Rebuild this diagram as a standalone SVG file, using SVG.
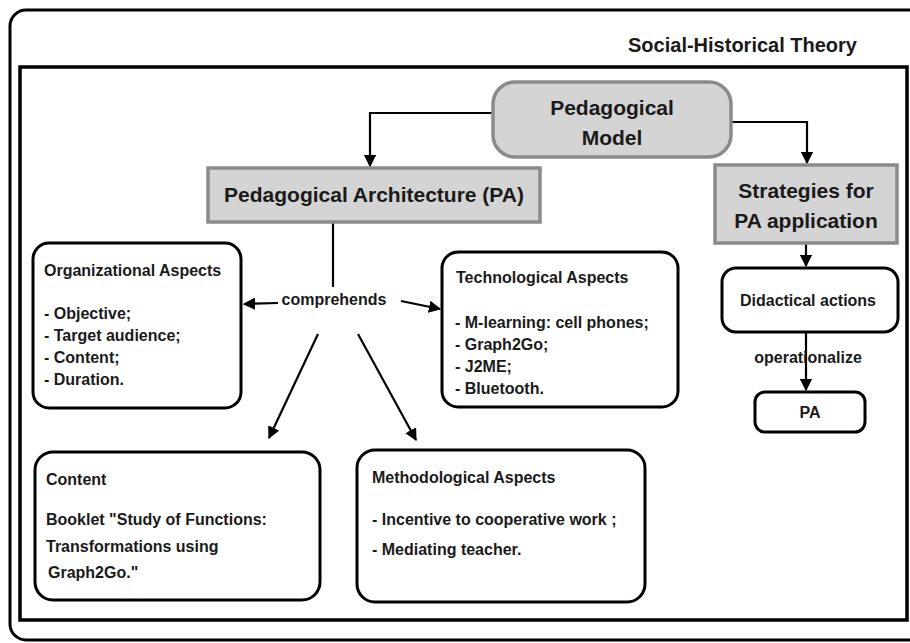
<svg xmlns="http://www.w3.org/2000/svg" width="910" height="643" viewBox="0 0 910 643">
<style>
text{font-family:"Liberation Sans",Arial,sans-serif;font-weight:bold;fill:#1a1a1a}
.t16{font-size:16px}
.t21{font-size:21px}
.c{text-anchor:middle}
.box{fill:#fff;stroke:#000;stroke-width:3}
.gray{fill:#d4d4d4;stroke:#8a8a8a;stroke-width:3.5}
.ln{fill:none;stroke:#000;stroke-width:2.2}
</style>
<defs>
<marker id="ah" viewBox="0 0 10 10" refX="9" refY="5" markerWidth="5.6" markerHeight="5.6" orient="auto" markerUnits="strokeWidth">
<path d="M0,0 L10,5 L0,10 z" fill="#000"/>
</marker>
</defs>
<rect width="910" height="643" fill="#fff"/>
<g id="outer-frame">
<rect x="10" y="10" width="930" height="630" rx="16" fill="none" stroke="#000" stroke-width="3"/>
<text x="857" y="52" text-anchor="end" style="font-size:20px">Social-Historical Theory</text>
</g>
<g id="inner-frame">
<rect x="20" y="67" width="887" height="553" fill="none" stroke="#000" stroke-width="3.5"/>
</g>
<g id="connectors">
<path class="ln" d="M493,113 H370 V166" marker-end="url(#ah)"/>
<path class="ln" d="M731,122 H807 V163" marker-end="url(#ah)"/>
<path class="ln" d="M806,243 V266" marker-end="url(#ah)"/>
<path class="ln" d="M806,332 V390" marker-end="url(#ah)"/>
<path class="ln" d="M333,222 V287"/>
<path class="ln" d="M278,303 L244,304" marker-end="url(#ah)"/>
<path class="ln" d="M401,301 L440,309" marker-end="url(#ah)"/>
<path class="ln" d="M318,334 L269,438" marker-end="url(#ah)"/>
<path class="ln" d="M358,334 L416,440" marker-end="url(#ah)"/>
<text class="t16 c" x="334" y="305">comprehends</text>
<text class="t16 c" x="808" y="363">operationalize</text>
</g>
<g id="pedagogical-model">
<rect class="gray" x="493" y="82" width="238" height="75" rx="22"/>
<text class="t21 c" x="612" y="115">Pedagogical</text>
<text class="t21 c" x="612" y="145">Model</text>
</g>
<g id="pedagogical-architecture">
<rect class="gray" x="208" y="168" width="332" height="54"/>
<text class="t21 c" x="374" y="202">Pedagogical Architecture (PA)</text>
</g>
<g id="strategies">
<rect class="gray" x="715" y="165" width="182" height="78"/>
<text class="t21 c" x="806" y="198">Strategies for</text>
<text class="t21 c" x="806" y="228">PA application</text>
</g>
<g id="didactical-actions">
<rect class="box" x="722" y="268" width="176" height="64" rx="14"/>
<text class="t16 c" x="808" y="306">Didactical actions</text>
</g>
<g id="pa">
<rect class="box" x="755" y="392" width="110" height="40" rx="10"/>
<text class="t16 c" x="810" y="418">PA</text>
</g>
<g id="organizational-aspects">
<rect class="box" x="33" y="243" width="208" height="165" rx="16"/>
<text class="t16" x="44" y="276">Organizational Aspects</text>
<text class="t16" x="44" y="319">- Objective;</text>
<text class="t16" x="44" y="341">- Target audience;</text>
<text class="t16" x="44" y="363">- Content;</text>
<text class="t16" x="44" y="385">- Duration.</text>
</g>
<g id="technological-aspects">
<rect class="box" x="442" y="252" width="236" height="155" rx="16"/>
<text class="t16" x="456" y="283">Technological Aspects</text>
<text class="t16" x="455" y="328">- M-learning: cell phones;</text>
<text class="t16" x="455" y="350">- Graph2Go;</text>
<text class="t16" x="455" y="372">- J2ME;</text>
<text class="t16" x="455" y="394">- Bluetooth.</text>
</g>
<g id="content">
<rect class="box" x="35" y="452" width="285" height="148" rx="18"/>
<text class="t16" x="46" y="485">Content</text>
<text class="t16" x="46" y="525">Booklet "Study of Functions:</text>
<text class="t16" x="46" y="552">Transformations using</text>
<text class="t16" x="48" y="578">Graph2Go."</text>
</g>
<g id="methodological-aspects">
<rect class="box" x="357" y="450" width="288" height="152" rx="18"/>
<text class="t16" x="372" y="483">Methodological Aspects</text>
<text class="t16" x="372" y="525">- Incentive to cooperative work ;</text>
<text class="t16" x="372" y="555">- Mediating teacher.</text>
</g>
</svg>
